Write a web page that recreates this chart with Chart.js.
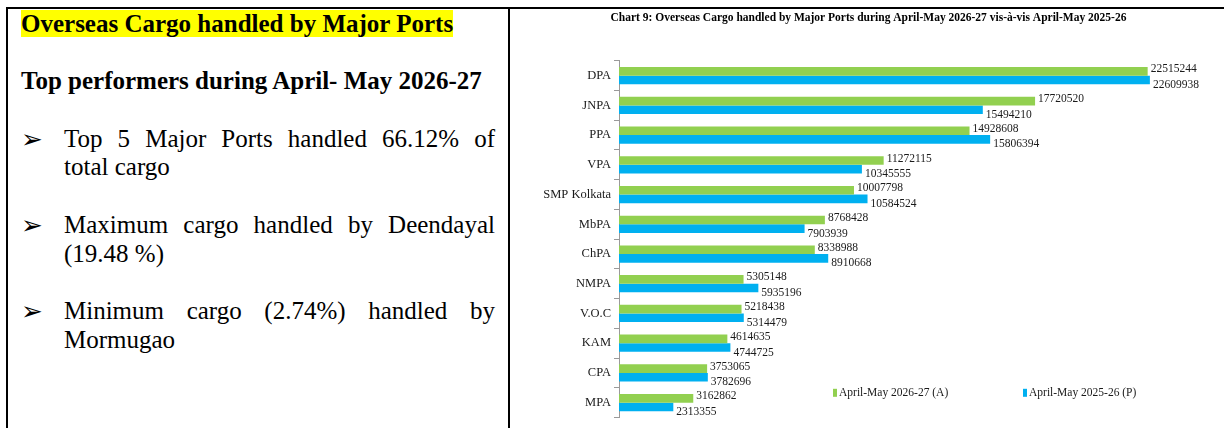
<!DOCTYPE html>
<html>
<head>
<meta charset="utf-8">
<script src="https://cdn.jsdelivr.net/npm/chart.js@4.4.1/dist/chart.umd.min.js"></script>
<style>
    html, body {
        margin: 0;
        padding: 0;
        background: #fff;
        width: 1224px;
        height: 428px;
        overflow: hidden;
        font-family: "Liberation Serif", "Times New Roman", serif;
        color: #000;
    }
    .frame {
        position: absolute;
        left: 6px;
        top: 7px;
        width: 1220px;
        height: 440px;
        border-top: 2px solid #000;
        border-left: 2px solid #000;
    }
    .left-cell {
        position: absolute;
        left: 0;
        top: 0;
        width: 500px;
        height: 440px;
        border-right: 2px solid #000;
        font-size: 25px;
        line-height: 28.7px;
    }
    .left-cell .inner {
        position: absolute;
        left: 13px;
        top: 1px;
        width: 474px;
    }
    .hl {
        background: #ffff00;
        font-weight: bold;
    }
    .bold {
        font-weight: bold;
    }
    .blank {
        height: 28.7px;
    }
    .bullet {
        display: flex;
    }
    .bullet .mark {
        width: 43px;
        flex: none;
        font-family: "DejaVu Sans", sans-serif;
        font-size: 26px;
    }
    .bullet .text {
        width: 431px;
    }
    .just {
        text-align: justify;
        text-align-last: justify;
    }
    .chart-box {
        position: absolute;
        left: 511px;
        top: 9px;
        width: 713px;
        height: 419px;
    }
</style>
</head>
<body>
<div class="frame">
    <div class="left-cell">
        <div class="inner">
            <div><span class="hl">Overseas Cargo handled by Major Ports</span></div>
            <div class="blank"></div>
            <div class="bold">Top performers during April- May 2026-27</div>
            <div class="blank"></div>
            <div class="bullet">
                <div class="mark">&#10146;</div>
                <div class="text">
                    <div class="just">Top 5 Major Ports handled 66.12% of</div>
                    <div>total cargo</div>
                </div>
            </div>
            <div class="blank"></div>
            <div class="bullet">
                <div class="mark">&#10146;</div>
                <div class="text">
                    <div class="just">Maximum cargo handled by Deendayal</div>
                    <div>(19.48 %)</div>
                </div>
            </div>
            <div class="blank"></div>
            <div class="bullet">
                <div class="mark">&#10146;</div>
                <div class="text">
                    <div class="just">Minimum cargo (2.74%) handled by</div>
                    <div>Mormugao</div>
                </div>
            </div>
        </div>
    </div>
</div>
<div class="chart-box"><canvas id="cargoChart"></canvas></div>

<script>
// Chart data
const ports = ['DPA', 'JNPA', 'PPA', 'VPA', 'SMP Kolkata', 'MbPA', 'ChPA', 'NMPA', 'V.O.C', 'KAM', 'CPA', 'MPA'];
const cargo2627 = [22515244, 17720520, 14928608, 11272115, 10007798, 8768428, 8338988, 5305148, 5218438, 4614635, 3753065, 3162862];
const cargo2526 = [22609938, 15494210, 15806394, 10345555, 10584524, 7903939, 8910668, 5935196, 5314479, 4744725, 3782696, 2313355];
const seriesNames = ['April-May 2026-27 (A)', 'April-May 2025-26 (P)'];
const xMax = 25000000;

const colors = {
    green: '#92d050',
    blue: '#00b0f0',
    text: '#1a1a1a',
    axis: '#9a9a9a'
};

// Value labels next to each bar end
const barLabels = {
    id: 'barLabels',
    afterDatasetsDraw(chart) {
        const ctx = chart.ctx;
        ctx.save();
        ctx.font = '11.5px "Liberation Serif"';
        ctx.fillStyle = colors.text;
        ctx.textAlign = 'left';
        ctx.textBaseline = 'middle';
        chart.data.datasets.forEach((ds, i) => {
            const meta = chart.getDatasetMeta(i);
            const dy = i === 0 ? -2 : 5;
            meta.data.forEach((bar, j) => {
                ctx.fillText(String(ds.data[j]), bar.x + 3, bar.y + dy);
            });
        });
        ctx.restore();
    }
};

// Legend drawn inside the plot, lower right
const innerLegend = {
    id: 'innerLegend',
    afterDraw(chart) {
        const ctx = chart.ctx;
        const area = chart.chartArea;
        const y = area.top + 332;
        const xs = [area.left + 214, area.left + 404];
        ctx.save();
        ctx.font = '11.5px "Liberation Serif"';
        ctx.textBaseline = 'middle';
        ctx.textAlign = 'left';
        chart.data.datasets.forEach((ds, i) => {
            ctx.fillStyle = ds.backgroundColor;
            ctx.fillRect(xs[i], y - 4, 4, 8);
            ctx.fillStyle = colors.text;
            ctx.fillText(ds.label, xs[i] + 6, y);
        });
        ctx.restore();
    }
};

function createChart() {
    const ctx = document.getElementById('cargoChart').getContext('2d');
    new Chart(ctx, {
        type: 'bar',
        data: {
            labels: ports,
            datasets: [
                { label: seriesNames[0], data: cargo2627, backgroundColor: colors.green },
                { label: seriesNames[1], data: cargo2526, backgroundColor: colors.blue }
            ]
        },
        options: {
            indexAxis: 'y',
            responsive: true,
            maintainAspectRatio: false,
            animation: false,
            categoryPercentage: 0.58,
            barPercentage: 1.0,
            layout: {
                padding: { top: 0, right: 18, bottom: 3, left: 20 }
            },
            plugins: {
                legend: { display: false },
                tooltip: { enabled: false },
                title: {
                    display: true,
                    text: 'Chart 9: Overseas Cargo handled by Major Ports during April-May 2026-27 vis-à-vis April-May 2025-26',
                    color: '#000',
                    font: { family: 'Liberation Serif', size: 11.5, weight: 'bold' },
                    padding: { top: 2, bottom: 36 }
                }
            },
            scales: {
                x: {
                    display: false,
                    min: 0,
                    max: xMax
                },
                y: {
                    afterFit(scale) {
                        scale.width = 88;
                    },
                    border: { display: true, color: colors.axis, width: 1 },
                    grid: {
                        display: true,
                        drawOnChartArea: false,
                        drawTicks: true,
                        tickLength: 5,
                        offset: true,
                        color: colors.axis
                    },
                    ticks: {
                        color: colors.text,
                        padding: 3,
                        font: { family: 'Liberation Serif', size: 12.5 }
                    }
                }
            }
        },
        plugins: [barLabels, innerLegend]
    });
}

document.addEventListener('DOMContentLoaded', createChart);
</script>
</body>
</html>
